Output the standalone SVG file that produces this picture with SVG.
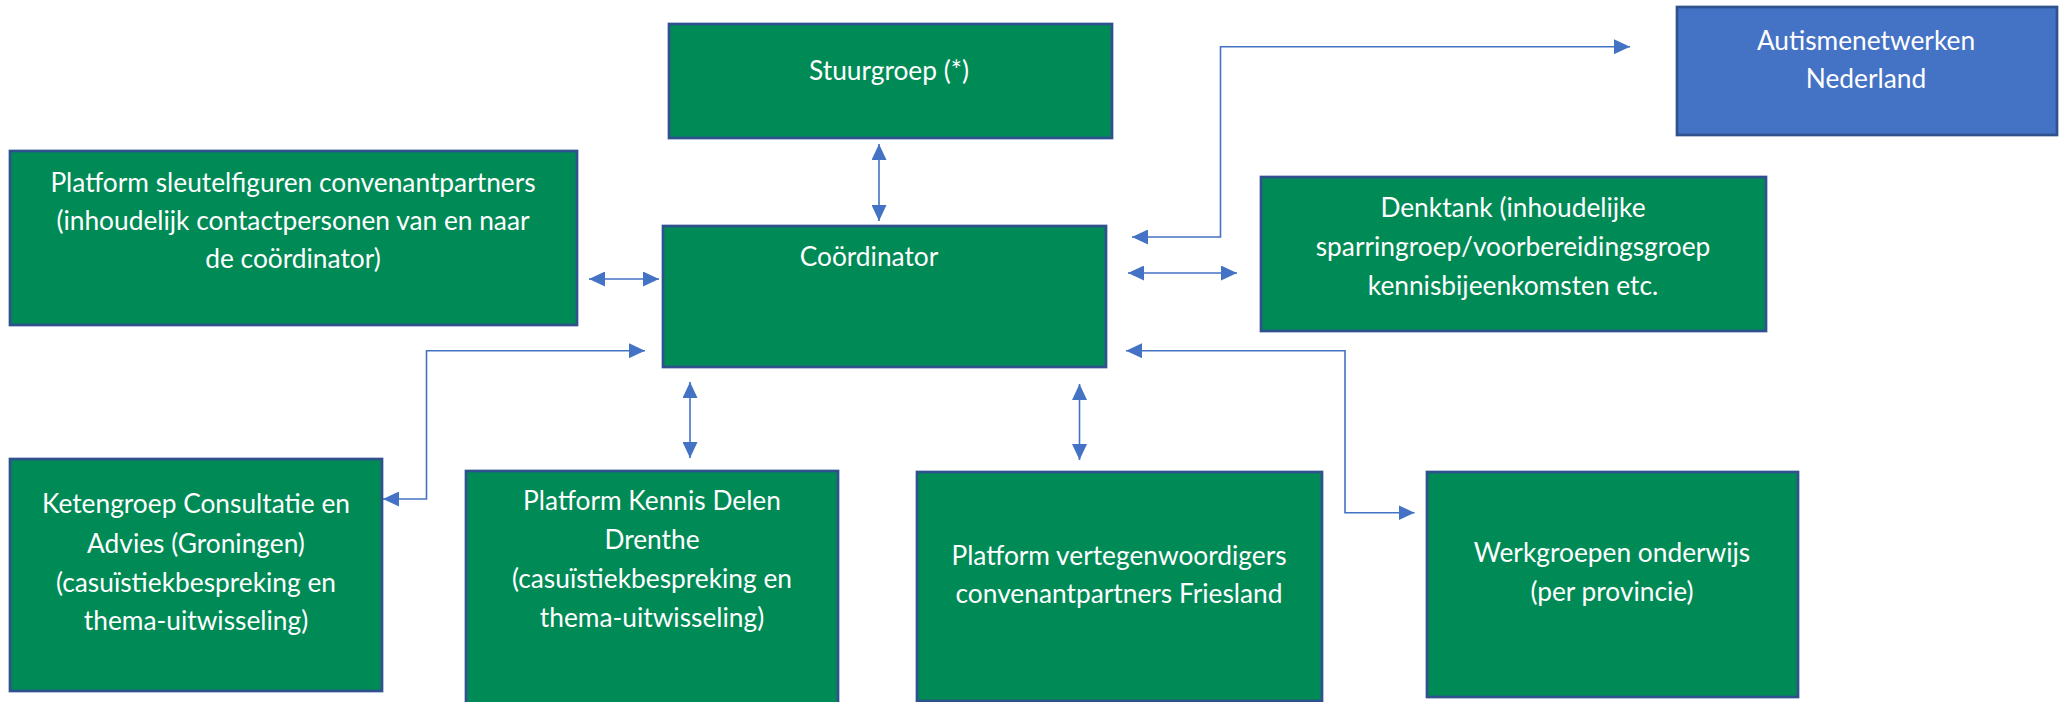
<svg xmlns="http://www.w3.org/2000/svg" width="2069" height="702" viewBox="0 0 2069 702">
<style>
.box{fill:#008A56;stroke:#2F528F;stroke-width:2.7}
.blue{fill:#4472C4;stroke:#2F528F;stroke-width:2.7}
.t{font-family:Lato,"Liberation Sans",sans-serif;font-size:26.3px;fill:#FFFFFF;text-anchor:middle}
.c{fill:none;stroke:#4472C4;stroke-width:1.6;marker-start:url(#ah);marker-end:url(#ah)}
</style>
<defs>
<marker id="ah" viewBox="0 0 16 15" refX="16" refY="7.5" markerWidth="16" markerHeight="15" markerUnits="userSpaceOnUse" orient="auto-start-reverse">
<path d="M0,0 L16,7.5 L0,15 z" fill="#4472C4"/>
</marker>
</defs>
<rect width="2069" height="702" fill="#FFFFFF"/>
<g id="connectors">
<path class="c" d="M879,144 L879,221"/>
<path class="c" d="M589,279 L659,279"/>
<path class="c" d="M1132,237 L1220.5,237 L1220.5,46.7 L1630,46.7"/>
<path class="c" d="M1128,273 L1237,273"/>
<path class="c" d="M1126,350.7 L1345,350.7 L1345,512.7 L1414.5,512.7"/>
<path class="c" d="M645,350.7 L426.5,350.7 L426.5,499 L383,499"/>
<path class="c" d="M690,382 L690,458"/>
<path class="c" d="M1079.5,384 L1079.5,460"/>
</g>
<g id="stuurgroep">
<rect class="box" x="669" y="24" width="443" height="114"/>
<text class="t" x="889" y="80">Stuurgroep (*)</text>
</g>
<g id="platform-sleutelfiguren">
<rect class="box" x="10" y="151" width="567" height="174"/>
<text class="t" x="293" y="192">Platform sleutelfiguren convenantpartners</text>
<text class="t" x="293" y="230">(inhoudelijk contactpersonen van en naar</text>
<text class="t" x="293" y="268">de coördinator)</text>
</g>
<g id="coordinator">
<rect class="box" x="663" y="226" width="443" height="141"/>
<text class="t" x="869" y="266">Coördinator</text>
</g>
<g id="autismenetwerken">
<rect class="blue" x="1677" y="7" width="380" height="128"/>
<text class="t" x="1866" y="50">Autismenetwerken</text>
<text class="t" x="1866" y="88">Nederland</text>
</g>
<g id="denktank">
<rect class="box" x="1261" y="177" width="505" height="154"/>
<text class="t" x="1513" y="217">Denktank (inhoudelijke</text>
<text class="t" x="1513" y="256">sparringroep/voorbereidingsgroep</text>
<text class="t" x="1513" y="295">kennisbijeenkomsten etc.</text>
</g>
<g id="ketengroep">
<rect class="box" x="10" y="459" width="372" height="232"/>
<text class="t" x="196" y="513">Ketengroep Consultatie en</text>
<text class="t" x="196" y="553">Advies (Groningen)</text>
<text class="t" x="196" y="592">(casuïstiekbespreking en</text>
<text class="t" x="196" y="630">thema-uitwisseling)</text>
</g>
<g id="kennis-delen">
<rect class="box" x="466" y="471" width="372" height="240"/>
<text class="t" x="652" y="510">Platform Kennis Delen</text>
<text class="t" x="652" y="549">Drenthe</text>
<text class="t" x="652" y="588">(casuïstiekbespreking en</text>
<text class="t" x="652" y="627">thema-uitwisseling)</text>
</g>
<g id="friesland">
<rect class="box" x="917" y="472" width="405" height="229"/>
<text class="t" x="1119" y="565">Platform vertegenwoordigers</text>
<text class="t" x="1119" y="603">convenantpartners Friesland</text>
</g>
<g id="werkgroepen">
<rect class="box" x="1427" y="472" width="371" height="225"/>
<text class="t" x="1612" y="562">Werkgroepen onderwijs</text>
<text class="t" x="1612" y="601">(per provincie)</text>
</g>
</svg>
